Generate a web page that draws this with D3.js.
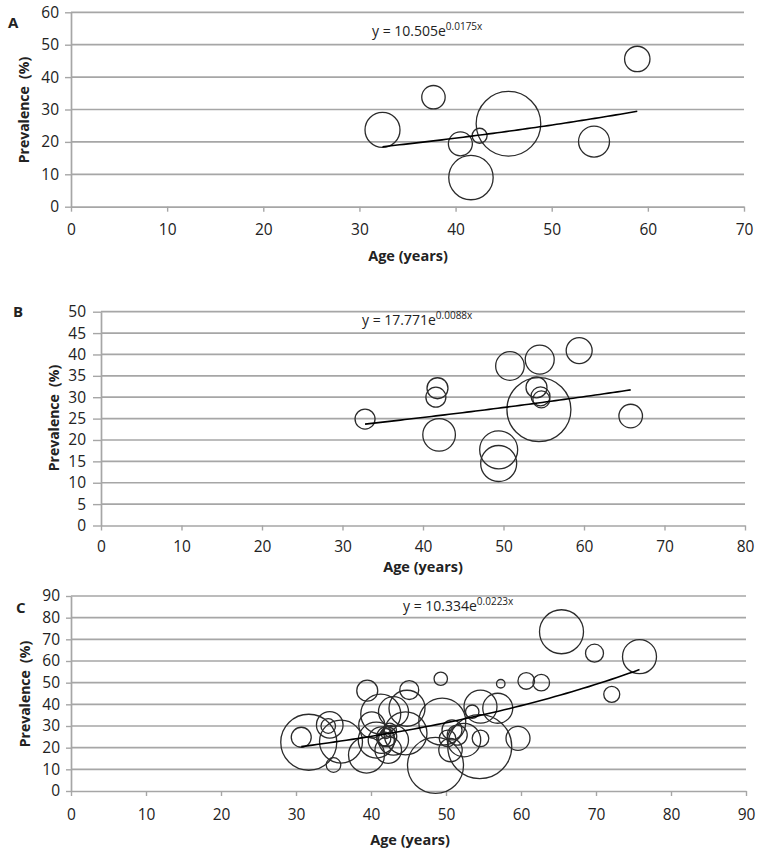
<!DOCTYPE html>
<html><head><meta charset="utf-8">
<script src="https://cdn.jsdelivr.net/npm/d3@7"></script>
<style>
html,body{margin:0;padding:0;background:#fff;}
svg text{font-family:"Open Sans",sans-serif;fill:#222;}
</style></head>
<body><svg id="chart" width="762" height="856"></svg>
<script>
// ---------- DATA ----------
// Panel A
const ageA  = [32.4, 37.7, 40.5, 42.5, 41.6, 45.5, 54.4, 58.9];
const prevA = [23.7, 33.8, 19.4, 21.9, 9.0, 25.6, 20.1, 45.6];
const sizeA = [306, 137, 144, 56, 493, 1043, 240, 161];
const trendA = [10.505, 0.0175];
const xTicksA = [0, 10, 20, 30, 40, 50, 60, 70];
const yTicksA = [0, 10, 20, 30, 40, 50, 60];

// Panel B
const ageB  = [32.8, 41.8, 41.6, 42.0, 49.4, 49.4, 50.8, 54.5, 59.4, 65.8, 54.4, 54.1, 54.6, 54.7];
const prevB = [24.9, 32.1, 30.0, 21.2, 17.7, 14.5, 37.3, 38.8, 40.9, 25.6, 27.1, 32.3, 30.2, 29.5];
const sizeB = [100, 110, 100, 266, 361, 324, 204, 210, 169, 139, 1024, 110, 90, 72];
const trendB = [17.771, 0.0088];
const xTicksB = [0, 10, 20, 30, 40, 50, 60, 70, 80];
const yTicksB = [0, 5, 10, 15, 20, 25, 30, 35, 40, 45, 50];

// Panel C
const ageC  = [31.7, 30.7, 34.5, 34.3, 35.0, 36.0, 39.5, 39.4, 41.3, 43.0, 45.1, 44.8, 49.3, 49.5,
               48.6, 54.6, 53.5, 56.9, 57.3, 60.7, 62.7, 59.6, 54.5, 54.6, 50.8, 50.2, 51.5, 50.6,
               52.4, 42.1, 42.5, 41.4, 43.0, 42.3, 44.6, 40.7, 40.1, 65.4, 69.8, 72.1, 75.8, 42.0, 41.7];
const prevC = [22.5, 24.8, 30.5, 30.0, 12.0, 22.8, 46.3, 16.6, 35.5, 36.6, 46.6, 38.2, 51.8, 32.0,
               11.8, 38.9, 36.6, 38.2, 49.5, 50.8, 50.0, 24.3, 20.5, 24.3, 28.2, 24.3, 25.8, 18.9,
               23.5, 25.1, 28.2, 23.5, 23.5, 18.9, 26.6, 23.5, 30.5, 73.5, 63.6, 44.6, 62.0, 26.5, 24.0];
const sizeC = [784, 100, 177, 53, 53, 462, 110, 324, 400, 225, 90, 324, 45, 552,
               784, 272, 45, 225, 18, 69, 69, 144, 1024, 69, 100, 69, 100, 137,
               279, 100, 45, 177, 225, 177, 462, 324, 169, 484, 81, 64, 289, 25, 49];
const trendC = [10.334, 0.0223];
const xTicksC = [0, 10, 20, 30, 40, 50, 60, 70, 80, 90];
const yTicksC = [0, 10, 20, 30, 40, 50, 60, 70, 80, 90];

// ---------- LAYOUT ----------
const svg = d3.select("#chart");
const GRID = "#a6a6a6";

const panels = [
  {ages:ageA, prevs:prevA, sizes:sizeA, trend:trendA, xTicks:xTicksA, yTicks:yTicksA,
   letter:"A", eqA:"10.505", eqB:"0.0175",
   x0:71, x1:744, yTop:12.3, yBot:206.7, maxR:32.3,
   letterPos:[8,28], ylab:[29,110], xlab:[408,261], eqPos:[372,36],
   yTickSize:6, yPad:6, xTickSize:5, xPad:12},
  {ages:ageB, prevs:prevB, sizes:sizeB, trend:trendB, xTicks:xTicksB, yTicks:yTicksB,
   letter:"B", eqA:"17.771", eqB:"0.0088",
   x0:101, x1:745, yTop:311.7, yBot:525.5, maxR:32,
   letterPos:[13,317], ylab:[59,418], xlab:[423,572], eqPos:[362,325],
   yTickSize:8, yPad:7, xTickSize:5, xPad:10},
  {ages:ageC, prevs:prevC, sizes:sizeC, trend:trendC, xTicks:xTicksC, yTicks:yTicksC,
   letter:"C", eqA:"10.334", eqB:"0.0223",
   x0:71, x1:746, yTop:596, yBot:791, maxR:32,
   letterPos:[16,613], ylab:[30,694], xlab:[410,845], eqPos:[403,611],
   yTickSize:5, yPad:6, xTickSize:5, xPad:13}
];

panels.forEach(p => {
  const xMax = p.xTicks[p.xTicks.length-1];
  const yMax = p.yTicks[p.yTicks.length-1];
  const x = d3.scaleLinear().domain([0, xMax]).range([p.x0, p.x1]);
  const y = d3.scaleLinear().domain([0, yMax]).range([p.yBot, p.yTop]);
  const r = d3.scaleSqrt().domain([0, d3.max(p.sizes)]).range([0, p.maxR]);
  const g = svg.append("g");

  // gridlines
  g.append("g").selectAll("line").data(p.yTicks.filter(v => v > 0)).join("line")
    .attr("x1", p.x0).attr("x2", p.x1)
    .attr("y1", d => y(d)).attr("y2", d => y(d))
    .attr("stroke", GRID).attr("stroke-width", 1.7);

  // axes
  const ya = g.append("g").attr("transform", `translate(${p.x0},0)`)
    .call(d3.axisLeft(y).tickValues(p.yTicks).tickSize(p.yTickSize).tickPadding(p.yPad).tickSizeOuter(0));
  const xa = g.append("g").attr("transform", `translate(0,${p.yBot})`)
    .call(d3.axisBottom(x).tickValues(p.xTicks).tickSize(p.xTickSize).tickPadding(p.xPad).tickSizeOuter(0));
  [ya, xa].forEach(a => {
    a.select(".domain").attr("stroke", GRID).attr("stroke-width", 1.7);
    a.selectAll(".tick line").attr("stroke", GRID).attr("stroke-width", 1.4);
    a.selectAll(".tick text").attr("font-family", "Open Sans").attr("font-size", 15.5).attr("fill", "#333");
  });

  // bubbles
  const pts = p.ages.map((a, i) => ({a, v: p.prevs[i], s: p.sizes[i]}));
  g.append("g").selectAll("circle").data(pts).join("circle")
    .attr("cx", d => x(d.a)).attr("cy", d => y(d.v)).attr("r", d => r(d.s))
    .attr("fill", "none").attr("stroke", "#2b2b2b").attr("stroke-width", 1.3);

  // exponential trendline
  const ext = d3.extent(p.ages);
  const tr = d3.range(ext[0], ext[1] + 0.001, (ext[1]-ext[0]) / 60)
    .map(t => [t, p.trend[0] * Math.exp(p.trend[1] * t)]);
  g.append("path").datum(tr)
    .attr("d", d3.line().x(d => x(d[0])).y(d => y(d[1])))
    .attr("fill", "none").attr("stroke", "#000").attr("stroke-width", 1.6);

  // equation
  const eq = g.append("text").attr("x", p.eqPos[0]).attr("y", p.eqPos[1])
    .attr("font-size", 14).attr("fill", "#222");
  eq.append("tspan").text(`y = ${p.eqA}e`);
  eq.append("tspan").attr("dy", -6).attr("font-size", 10).text(`${p.eqB}x`);

  // letter
  g.append("text").attr("x", p.letterPos[0]).attr("y", p.letterPos[1])
    .attr("font-size", 15).attr("font-weight", "bold").text(p.letter);

  // axis titles
  g.append("text").attr("transform", `translate(${p.ylab[0]},${p.ylab[1]}) rotate(-90)`)
    .attr("text-anchor", "middle").attr("font-size", 14).attr("font-weight", "bold")
    .style("white-space", "pre")
    .text("Prevalence  (%)");
  g.append("text").attr("x", p.xlab[0]).attr("y", p.xlab[1])
    .attr("text-anchor", "middle").attr("font-size", 14.5).attr("font-weight", "bold")
    .text("Age (years)");
});
</script></body></html>
